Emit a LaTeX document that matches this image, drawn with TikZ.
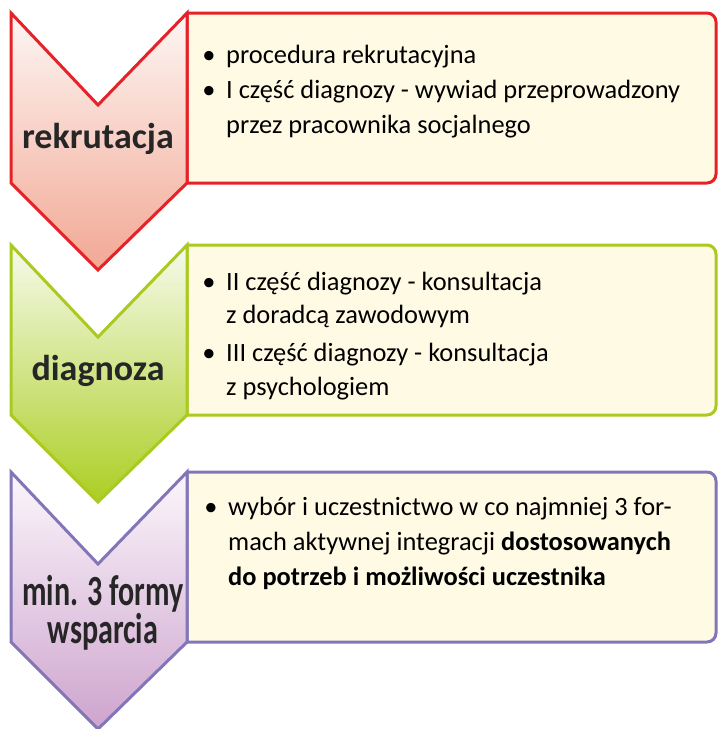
\documentclass[tikz,border=0pt]{standalone}
\usepackage{fontspec}
\setmainfont{Carlito}
\definecolor{redline}{RGB}{228,34,40}
\definecolor{greenline}{RGB}{170,202,32}
\definecolor{purpleline}{RGB}{130,118,184}
\definecolor{panelfill}{RGB}{255,250,228}
\definecolor{redtop}{RGB}{253,246,244}
\definecolor{redbot}{RGB}{242,168,148}
\definecolor{greentop}{RGB}{246,250,236}
\definecolor{greenbot}{RGB}{172,206,34}
\definecolor{purpletop}{RGB}{251,246,251}
\definecolor{purplebot}{RGB}{206,164,206}
\definecolor{labelgray}{RGB}{38,38,38}
\newcommand\drawstage[4]{%
  \draw[panel, draw=#2] (187,#1) -- (707,#1) arc[start angle=-90,end angle=0,radius=9]
     -- (716,#1+161) arc[start angle=0,end angle=90,radius=9] -- (187,#1+170) -- cycle;
  \draw[chev, draw=#2, top color=#3, bottom color=#4]
     (11,#1) -- (98,#1+92) -- (187,#1) -- (187,#1+170) -- (98,#1+257) -- (11,#1+170) -- cycle;
}
\tikzset{
  panel/.style={line width=3pt, fill=panelfill, line join=round},
  chev/.style={line width=3pt, line join=miter},
  lbl/.style={font=\fontsize{36}{40}\selectfont\bfseries, text=labelgray, inner sep=0pt, anchor=base},
  tall/.style={font=\fontsize{43}{36}\selectfont\bfseries, xscale=0.70, align=center, anchor=center},
  txt/.style={font=\fontsize{26.4}{30}\selectfont, anchor=base west, inner sep=0pt},
  bul/.style={font=\fontsize{26.4}{30}\selectfont, anchor=base, inner sep=0pt},
}
\begin{document}
\begin{tikzpicture}[x=1pt,y=-1pt]
\useasboundingbox (0,0) rectangle (718,729);
\drawstage{13}{redline}{redtop}{redbot}
\drawstage{245}{greenline}{greentop}{greenbot}
\drawstage{472}{purpleline}{purpletop}{purplebot}
% labels
\node[lbl] (l1) at (98,148) {rekrutacja};
\node[lbl] (l2) at (98,380) {diagnoza};
\node[lbl, tall] (l3) at (103,613) {min. 3 formy\\wsparcia};
% stage 1
\node[bul] (b11) at (209,63) {•};
\node[txt] (t11) at (226,63) {procedura rekrutacyjna};
\node[bul] (b12) at (209,98) {•};
\node[txt] (t12) at (226,98) {I część diagnozy - wywiad przeprowadzony};
\node[txt] (t13) at (226,133) {przez pracownika socjalnego};
% stage 2
\node[bul] (b21) at (209,290) {•};
\node[txt] (t21) at (226,290) {II część diagnozy - konsultacja};
\node[txt] (t22) at (226,323) {z doradcą zawodowym};
\node[bul] (b23) at (209,361) {•};
\node[txt] (t23) at (226,361) {III część diagnozy - konsultacja};
\node[txt] (t24) at (226,395) {z psychologiem};
% stage 3
\node[bul] (b31) at (211,515) {•};
\node[txt] (t31) at (228,515) {wybór i uczestnictwo w co najmniej 3 for-};
\node[txt] (t32) at (228,550) {mach aktywnej integracji \textbf{dostosowanych}};
\node[txt] (t33) at (228,585) {\textbf{do potrzeb i możliwości uczestnika}};
\end{tikzpicture}
\end{document}
